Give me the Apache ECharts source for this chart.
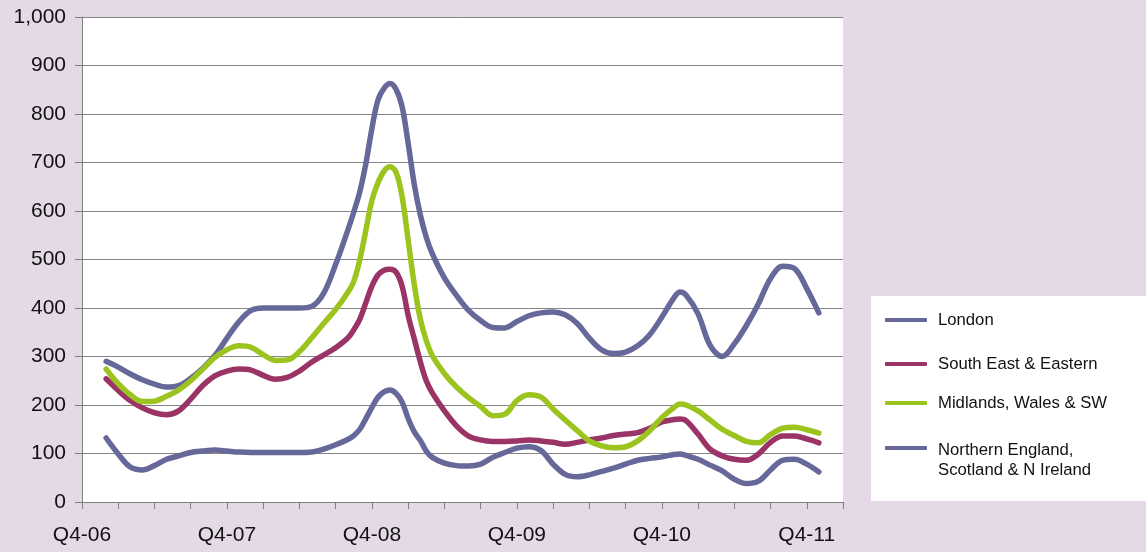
<!DOCTYPE html>
<html>
<head>
<meta charset="utf-8">
<script src="https://cdn.jsdelivr.net/npm/echarts@6/dist/echarts.min.js"></script>
<style>
  html, body { margin: 0; padding: 0; background: #e5d8e7; }
  #chart { width: 1146px; height: 552px; }
</style>
</head>
<body>
<div id="chart"></div>
<script>
// Month index from the Q4-06 tick (0) – half-month steps around the sharp peaks
const months = [
  2, 3, 4, 5, 6, 7, 8, 9, 10, 11, 12, 13, 14, 15, 16, 17, 18, 19, 20, 21, 22,
  22.5, 23, 23.5, 24, 24.5, 25, 25.5, 26, 26.5, 27, 27.5, 28, 28.5,
  29, 30, 31, 32, 33, 34, 35, 36, 37, 38, 39, 40, 41, 42, 43, 44, 45,
  46, 47, 48, 49, 49.5, 50, 51, 52, 53, 54, 55, 56, 57, 58, 59, 60, 61
];

const london = [
  290, 278, 264, 252, 243, 237, 240, 255, 276, 302, 338, 372, 395, 400, 400, 400, 400, 403, 430, 490, 560,
  598, 640, 698, 770, 829, 853, 863, 851, 815, 740, 656, 593, 546,
  512, 462, 426, 395, 374, 360, 359, 372, 384, 390, 392, 386, 368, 338, 314, 306, 309,
  322, 345, 381, 421, 433, 427, 388, 323, 300, 326, 364, 409, 461, 486, 481, 440, 390
];

const southEast = [
  254, 230, 209, 194, 184, 180, 188, 212, 240, 260, 270, 274, 272, 261, 253, 257, 270, 288, 303, 318, 338,
  355, 377, 411, 445, 468, 478, 480, 474, 445, 385, 337, 290, 250,
  225, 188, 157, 136, 128, 125, 125, 126, 128, 126, 123, 119, 123, 128, 132, 137, 140,
  143, 152, 165, 170, 171, 168, 140, 109, 95, 88, 86, 99, 123, 136, 136, 130, 122
];

const midlands = [
  274, 244, 221, 207, 208, 218, 231, 250, 274, 298, 314, 322, 319, 304, 292, 293, 310, 338, 368, 397, 432,
  455, 500, 560, 622, 658, 682, 691, 680, 630, 540, 450, 378, 333,
  302, 265, 237, 215, 197, 178, 181, 209, 221, 216, 192, 169, 147, 126, 116, 112, 114,
  126, 147, 174, 195, 202, 200, 188, 169, 150, 137, 125, 122, 139, 152, 154, 149, 142
];

const northern = [
  132, 99, 72, 66, 75, 88, 95, 102, 105, 107, 105, 103, 102, 102, 102, 102, 102, 103, 109, 118, 129,
  137, 150, 172, 195, 216, 227, 231, 224, 206, 172, 145, 127, 105,
  92, 80, 75, 74, 78, 92, 102, 111, 114, 106, 78, 57, 52, 56, 63, 70, 78,
  86, 90, 93, 98, 99, 96, 88, 76, 64, 47, 38, 43, 66, 86, 88, 78, 62
];

const tickLabels = ['Q4-06', 'Q4-07', 'Q4-08', 'Q4-09', 'Q4-10', 'Q4-11'];

const seriesNames = [
  'London',
  'South East & Eastern',
  'Midlands, Wales & SW',
  'Northern England, Scotland & N Ireland'
];
// the long name wraps onto two lines in the key
const legendText = {
  'Northern England, Scotland & N Ireland': '{gap|}\n{t|Northern England,}\n{t|Scotland & N Ireland}'
};
const seriesColors = ['#67689a', '#9a3366', '#9bc41e', '#67689a'];
const seriesValues = [london, southEast, midlands, northern];

const FONT = '"Liberation Sans", Arial, sans-serif';

const pairs = vals => months.map((m, i) => [m, vals[i]]);

const legendTops = [310, 354, 393, 416];

const chart = echarts.init(document.getElementById('chart'));
chart.setOption({
  animation: false,
  backgroundColor: '#e5d8e7',
  graphic: [{
    type: 'rect',
    shape: { x: 871, y: 296, width: 280, height: 205 },
    style: { fill: '#ffffff' },
    z: -1
  }],
  grid: {
    left: 82, right: 303, top: 17, bottom: 50,
    show: true, backgroundColor: '#ffffff', borderWidth: 0
  },
  legend: seriesNames.map((name, i) => ({
    data: [name],
    orient: 'vertical',
    left: 885,
    top: legendTops[i],
    padding: 0,
    icon: 'roundRect',
    itemWidth: 42,
    itemHeight: 4,
    selectedMode: false,
    formatter: n => legendText[n] || n,
    textStyle: {
      fontFamily: FONT,
      fontSize: 16.7,
      color: '#111',
      lineHeight: 20,
      padding: [0, 0, 0, 6],
      rich: {
        gap: { lineHeight: 24, height: 24, fontSize: 16.7 },
        t: { fontFamily: FONT, fontSize: 16.7, color: '#111', lineHeight: 20 }
      }
    }
  })),
  xAxis: {
    type: 'value',
    min: 0,
    max: 63,
    interval: 3,
    axisLine: { show: true, onZero: false, lineStyle: { color: '#7f7f7f', width: 1 } },
    axisTick: { show: true, inside: false, length: 7, lineStyle: { color: '#7f7f7f' } },
    splitLine: { show: false },
    axisLabel: {
      fontFamily: FONT,
      fontSize: 21,
      color: '#111',
      margin: 23,
      showMinLabel: true,
      showMaxLabel: true,
      formatter: v => (v % 12 === 0 && tickLabels[v / 12]) ? tickLabels[v / 12] : ''
    }
  },
  yAxis: {
    type: 'value',
    min: 0,
    max: 1000,
    interval: 100,
    axisLine: { show: true, lineStyle: { color: '#7f7f7f', width: 1 } },
    axisTick: { show: true, inside: false, length: 7, lineStyle: { color: '#7f7f7f' } },
    splitLine: { show: true, lineStyle: { color: '#858585', width: 1 } },
    axisLabel: {
      fontFamily: FONT,
      fontSize: 21,
      color: '#111',
      margin: 16,
      formatter: v => v.toLocaleString('en-GB')
    }
  },
  series: seriesNames.map((name, i) => ({
    name,
    type: 'line',
    data: pairs(seriesValues[i]),
    showSymbol: false,
    symbol: 'none',
    smooth: 0.35,
    color: seriesColors[i],
    lineStyle: { width: 5.5, color: seriesColors[i], cap: 'round', join: 'round' }
  }))
});
</script>
</body>
</html>
